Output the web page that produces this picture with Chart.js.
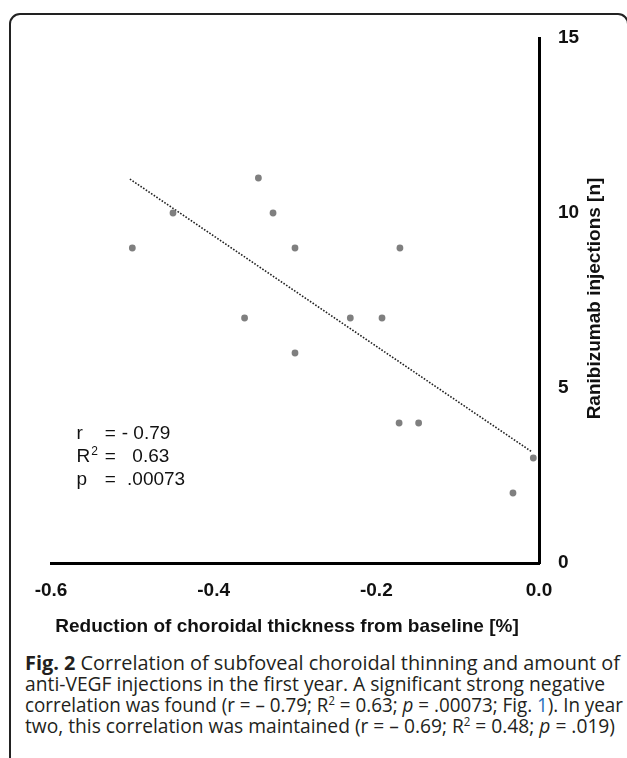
<!DOCTYPE html>
<html>
<head>
<meta charset="utf-8">
<script src="https://cdn.jsdelivr.net/npm/chart.js@4.4.1/dist/chart.umd.min.js"></script>
<style>
  html, body { margin: 0; padding: 0; background: #fff; }
  body { width: 627px; height: 758px; position: relative; overflow: hidden; }
  #frame {
    position: absolute; left: 9px; top: 13px; width: 620px; height: 800px;
    border: 2px solid #222; border-radius: 11px; box-sizing: border-box;
  }
  #plot { position: absolute; left: 0; top: 0; }
  #caption {
    position: absolute; left: 25px; top: 652px;
    font-family: "Open Sans", sans-serif; font-size: 20px; line-height: 21px;
    color: #231f20; white-space: nowrap;
  }
  #caption .ln { height: 21px; }
  #caption .ln span { display: inline-block; transform-origin: 0 0; }
  #caption b { font-weight: 700; }
  #caption sup { font-size: 12px; line-height: 0; vertical-align: 7px; }
  #caption a { color: #2a6ebb; text-decoration: none; }
</style>
</head>
<body>
<div id="frame"></div>
<canvas id="plot" width="627" height="645"></canvas>
<div id="caption">
  <div class="ln"><span><b>Fig. 2</b> Correlation of subfoveal choroidal thinning and amount of</span></div>
  <div class="ln"><span>anti-VEGF injections in the first year. A significant strong negative</span></div>
  <div class="ln"><span>correlation was found (r = – 0.79; R<sup>2</sup> = 0.63; <i>p</i> = .00073; Fig. <a>1</a>). In year</span></div>
  <div class="ln"><span>two, this correlation was maintained (r = – 0.69; R<sup>2</sup> = 0.48; <i>p</i> = .019)</span></div>
</div>
<script>
  // ---- data ----
  const thinning    = [-0.50, -0.45, -0.345, -0.327, -0.30, -0.171, -0.362, -0.232, -0.193, -0.30, -0.172, -0.148, -0.007, -0.032];
  const injections  = [9, 10, 11, 10, 9, 9, 7, 7, 7, 6, 4, 4, 3, 2];
  const trendX      = [-0.503, -0.009];
  const trendY      = [10.97, 3.18];
  const xTicks      = [-0.6, -0.4, -0.2, 0.0];
  const yTicks      = [0, 5, 10, 15];
  const statLabels  = ['r', 'R', 'p'];
  const statValues  = ['- 0.79', '  0.63', ' .00073'];
  const xTitle = 'Reduction of choroidal thickness from baseline [%]';
  const yTitle = 'Ranibizumab injections [n]';

  const FONT = '"Liberation Sans", Arial, sans-serif';

  // caption lines end at slightly different x in the original (narrower font there)
  const captionLeft  = 25;
  const captionRight = [620, 605, 623, 615];
  function fitCaption() {
    document.querySelectorAll('#caption .ln span').forEach((el, i) => {
      el.style.transform = 'none';
      const w = el.getBoundingClientRect().width;
      if (w) el.style.transform = `scaleX(${(captionRight[i] - captionLeft) / w})`;
    });
  }
  fitCaption();
  document.fonts && document.fonts.ready.then(fitCaption);

  const points = thinning.map((x, i) => ({ x, y: injections[i] }));
  const trend  = trendX.map((x, i) => ({ x, y: trendY[i] }));

  // titles + r/R²/p box, drawn by hand (right-side title reads bottom-up)
  const extras = {
    id: 'extras',
    afterDraw(chart) {
      const { ctx, scales: { x, y } } = chart;
      ctx.save();
      ctx.fillStyle = '#111';

      // stats
      ctx.textBaseline = 'middle';
      ctx.textAlign = 'left';
      const rows = [3.69, 3.03, 2.37];
      const x0 = x.getPixelForValue(-0.5686);
      const xEq = x.getPixelForValue(-0.534);
      const xVal = x.getPixelForValue(-0.513);
      statLabels.forEach((lab, i) => {
        const py = y.getPixelForValue(rows[i]);
        ctx.font = '19px ' + FONT;
        ctx.fillText(lab, x0, py);
        if (lab === 'R') {
          const w = ctx.measureText('R').width;
          ctx.font = '12px ' + FONT;
          ctx.fillText('2', x0 + w + 1, py - 5);
          ctx.font = '19px ' + FONT;
        }
        ctx.fillText('=', xEq, py);
        ctx.fillText(statValues[i], xVal, py);
      });

      // x title
      ctx.font = 'bold 19px ' + FONT;
      ctx.textAlign = 'center';
      ctx.fillText(xTitle, 287, 627);

      // y title, rotated
      ctx.translate(595, 298.5);
      ctx.rotate(-Math.PI / 2);
      ctx.fillText(yTitle, 0, 0);
      ctx.restore();
    }
  };

  new Chart(document.getElementById('plot'), {
    type: 'scatter',
    data: {
      datasets: [
        {
          data: points,
          backgroundColor: '#7f7f7f',
          borderWidth: 0,
          pointRadius: 3.4,
          pointHoverRadius: 3.4
        },
        {
          type: 'line',
          data: trend,
          showLine: true,
          borderColor: '#222',
          borderWidth: 1.6,
          borderDash: [1.6, 1.6],
          pointRadius: 0,
          fill: false
        }
      ]
    },
    options: {
      responsive: false,
      animation: false,
      events: [],
      layout: { padding: { left: 51, top: 38, right: 0, bottom: 0 } },
      plugins: { legend: { display: false }, tooltip: { enabled: false } },
      scales: {
        x: {
          type: 'linear',
          position: 'bottom',
          min: xTicks[0],
          max: xTicks[xTicks.length - 1],
          afterBuildTicks: s => { s.ticks = xTicks.map(v => ({ value: v })); },
          afterFit: s => { s.height = 82; },
          grid: { display: false, drawTicks: false },
          border: { display: true, color: '#000', width: 3 },
          ticks: {
            padding: 16,
            color: '#111',
            font: { family: FONT, size: 19, weight: 'bold' },
            callback: v => v.toFixed(1)
          }
        },
        y: {
          type: 'linear',
          position: 'right',
          min: yTicks[0],
          max: yTicks[yTicks.length - 1],
          afterBuildTicks: s => { s.ticks = yTicks.map(v => ({ value: v })); },
          afterFit: s => { s.width = 88; },
          grid: { display: false, drawTicks: false },
          border: { display: true, color: '#000', width: 3 },
          ticks: {
            padding: 19,
            color: '#111',
            font: { family: FONT, size: 19, weight: 'bold' }
          }
        }
      }
    },
    plugins: [extras]
  });
</script>
</body>
</html>
